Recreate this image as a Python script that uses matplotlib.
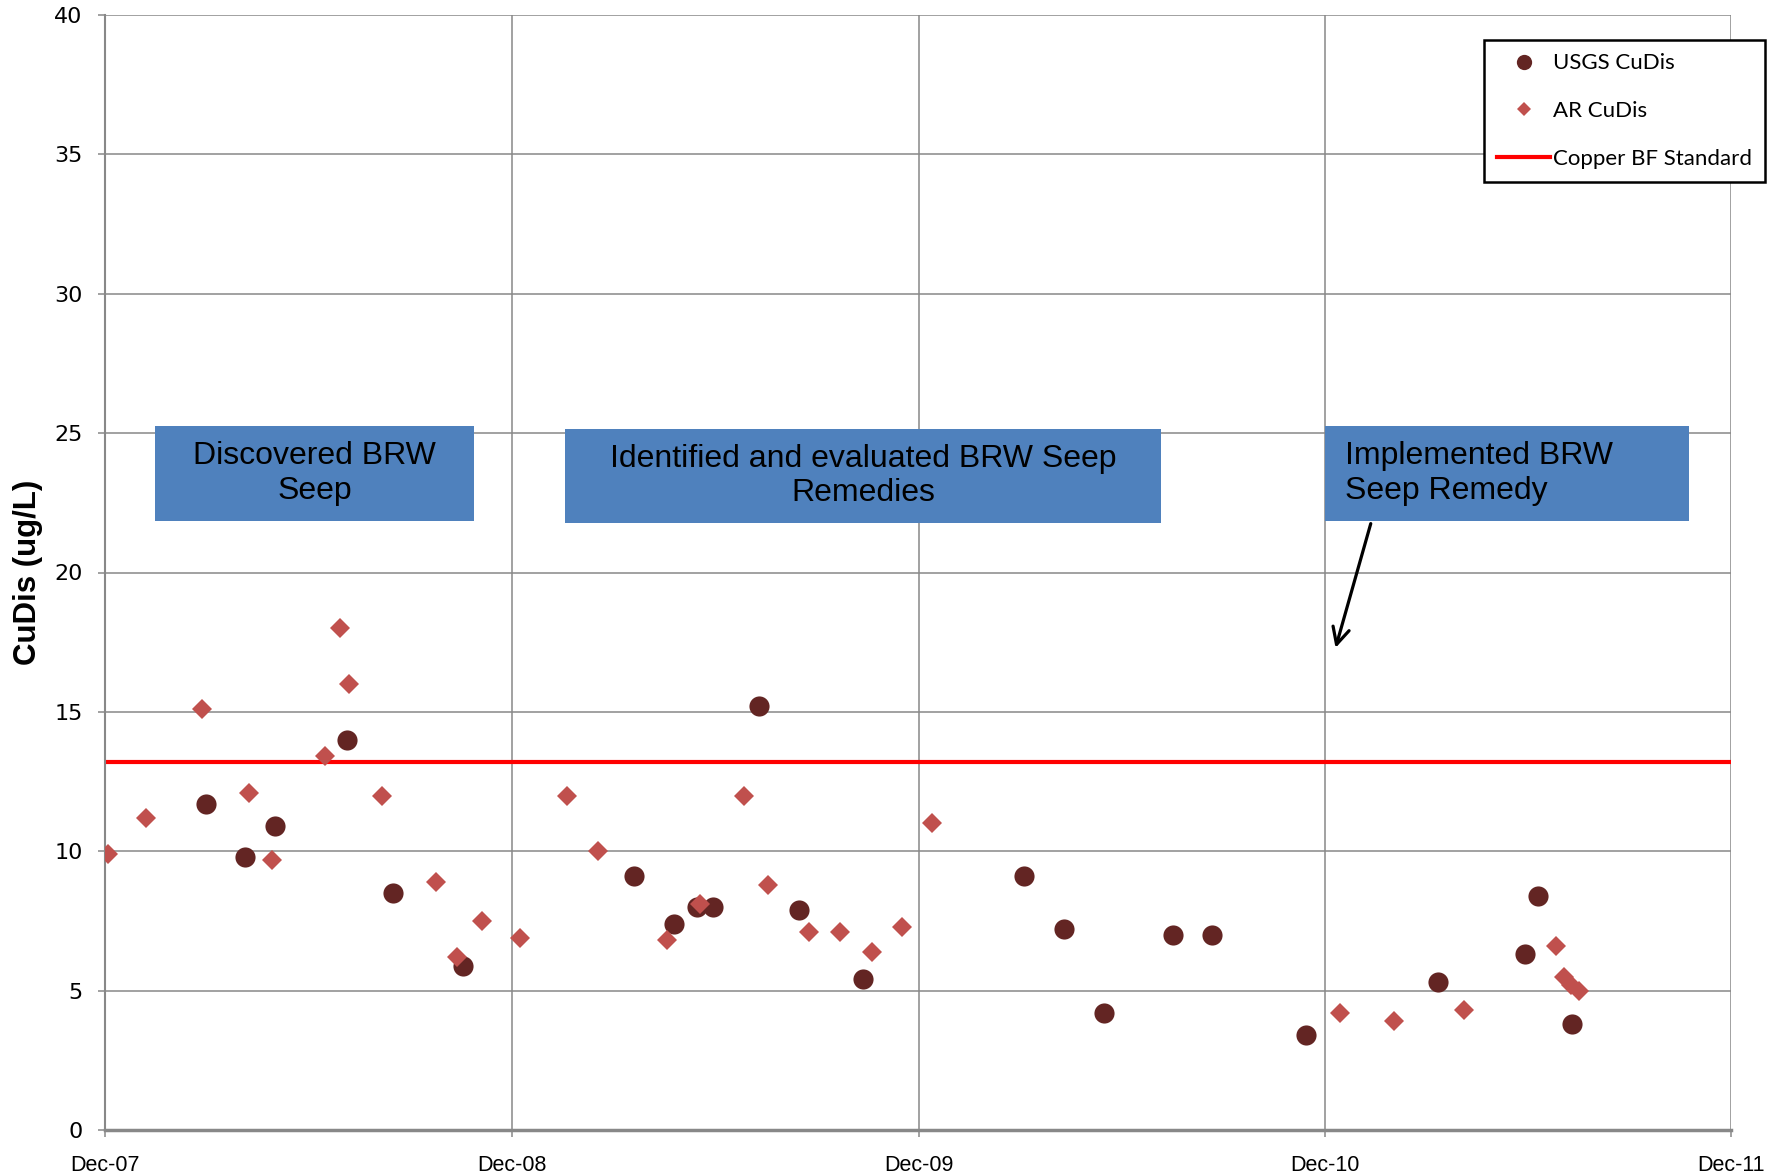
import pandas as pd
import matplotlib
matplotlib.use("Agg")
import matplotlib.pyplot as plt
import matplotlib.dates as mdates
from matplotlib.lines import Line2D
from matplotlib.patches import Rectangle

# AR CuDis (diamants)
ar_dates = ["2007-12-04", "2008-01-07", "2008-02-26", "2008-04-08", "2008-04-29",
            "2008-06-16", "2008-06-29", "2008-07-07", "2008-08-06", "2008-09-23",
            "2008-10-12", "2008-11-04", "2008-12-08", "2009-01-19", "2009-02-16",
            "2009-04-19", "2009-05-19", "2009-06-27", "2009-07-19", "2009-08-25",
            "2009-09-21", "2009-10-20", "2009-11-16", "2009-12-13", "2010-12-15",
            "2011-02-01", "2011-04-05", "2011-06-27", "2011-07-04", "2011-07-10",
            "2011-07-17"]
ar_vals = [9.9, 11.2, 15.1, 12.1, 9.7,
           13.4, 18.0, 16.0, 12.0, 8.9,
           6.2, 7.5, 6.9, 12.0, 10.0,
           6.8, 8.1, 12.0, 8.8, 7.1,
           7.1, 6.4, 7.3, 11.0, 4.2,
           3.9, 4.3, 6.6, 5.5, 5.2,
           5.0]

# USGS CuDis (cercles)
usgs_dates = ["2008-03-01", "2008-04-05", "2008-05-02", "2008-07-05", "2008-08-16",
              "2008-10-18", "2009-03-20", "2009-04-25", "2009-05-16", "2009-05-30",
              "2009-07-11", "2009-08-16", "2009-10-12", "2010-03-06", "2010-04-11",
              "2010-05-17", "2010-07-18", "2010-08-22", "2010-11-14", "2011-03-13",
              "2011-05-30", "2011-06-11", "2011-07-11"]
usgs_vals = [11.7, 9.8, 10.9, 14.0, 8.5,
             5.9, 9.1, 7.4, 8.0, 8.0,
             15.2, 7.9, 5.4, 9.1, 7.2,
             4.2, 7.0, 7.0, 3.4, 5.3,
             6.3, 8.4, 3.8]

standard = 13.2
tick_dates = ["2007-12-01", "2008-12-01", "2009-12-01", "2010-12-01", "2011-12-01"]
box_labels = ["Discovered BRW\nSeep",
              "Identified and evaluated BRW Seep\nRemedies",
              "Implemented BRW\nSeep Remedy"]

ar_x = pd.to_datetime(ar_dates)
usgs_x = pd.to_datetime(usgs_dates)
ticks = pd.to_datetime(tick_dates)

grey = "#888888"
fig = plt.figure(figsize=(17.84, 11.75), dpi=100)
ax = fig.add_axes([105 / 1784, 1 - 1130 / 1175, 1626 / 1784, 1115 / 1175])

ax.axhline(standard, color="#FF0000", lw=3.0, zorder=2)
ax.plot(usgs_x, usgs_vals, "o", ms=14.5, mew=0, color="#632523", zorder=3)
ax.plot(ar_x, ar_vals, "D", ms=10, mew=0, color="#C0504D", zorder=4)

ax.set_xlim(ticks[0], ticks[-1])
ax.set_ylim(0, 40)
ax.set_yticks(range(0, 41, 5))
ax.set_xticks(ticks)
ax.xaxis.set_major_formatter(mdates.DateFormatter("%b-%y"))
ax.grid(True, color=grey, lw=1.1)
ax.set_axisbelow(True)
for s in ["top", "right"]:
    ax.spines[s].set_visible(False)
ax.spines["left"].set_color(grey)
ax.spines["left"].set_linewidth(1.5)
ax.spines["bottom"].set_color(grey)
ax.spines["bottom"].set_linewidth(2.5)
ax.tick_params(axis="both", color=grey, length=5, width=1.1)
ax.tick_params(axis="y", labelsize=16, pad=11)
ax.tick_params(axis="x", pad=13)
for lab in ax.get_xticklabels():
    lab.set_family("Liberation Sans")
    lab.set_fontsize(15.5)

ax.set_ylabel("CuDis (ug/L)", fontsize=22.5, fontweight="bold",
              family="Liberation Sans")
ax.yaxis.set_label_coords(-0.038, 0.5)

# boites de texte
boxes = [(0.0308, 0.5462, 0.1961, 0.0852),
         (0.2829, 0.5444, 0.3665, 0.0843),
         (0.7503, 0.5462, 0.2239, 0.0852)]
for i, (x0, y0, w, h) in enumerate(boxes):
    ax.add_patch(Rectangle((x0, y0), w, h, transform=ax.transAxes,
                           facecolor="#4F81BD", edgecolor="none", zorder=5))
    if i < 2:
        ax.text(x0 + w / 2, y0 + h / 2, box_labels[i], transform=ax.transAxes,
                ha="center", va="center", fontsize=23,
                family="Liberation Sans", zorder=6)
    else:
        ax.text(x0 + 0.0125, y0 + h / 2, box_labels[i], transform=ax.transAxes,
                ha="left", va="center", fontsize=23,
                family="Liberation Sans", zorder=6)

ax.annotate("", xy=(pd.Timestamp("2010-12-10"), 17.2),
            xytext=(pd.Timestamp("2011-01-12"), 21.85),
            arrowprops=dict(arrowstyle="->", lw=2.3, color="black",
                            mutation_scale=30), zorder=6)

handles = [
    Line2D([], [], marker="o", ls="none", ms=11, mew=0, color="#632523"),
    Line2D([], [], marker="D", ls="none", ms=7.5, mew=0, color="#C0504D"),
    Line2D([], [], color="#FF0000", lw=3.0),
]
leg = fig.legend(handles, ["USGS CuDis", "AR CuDis", "Copper BF Standard"],
                 loc="upper right", bbox_to_anchor=(1765 / 1784, 1 - 40 / 1175),
                 prop={"family": "Lato", "size": 16}, frameon=True,
                 fancybox=False, edgecolor="black", framealpha=1,
                 handlelength=2.4, handletextpad=0.1, labelspacing=1.25,
                 borderpad=0.6, borderaxespad=0)
leg.get_frame().set_linewidth(1.8)

plt.savefig("out.png", dpi=100)
